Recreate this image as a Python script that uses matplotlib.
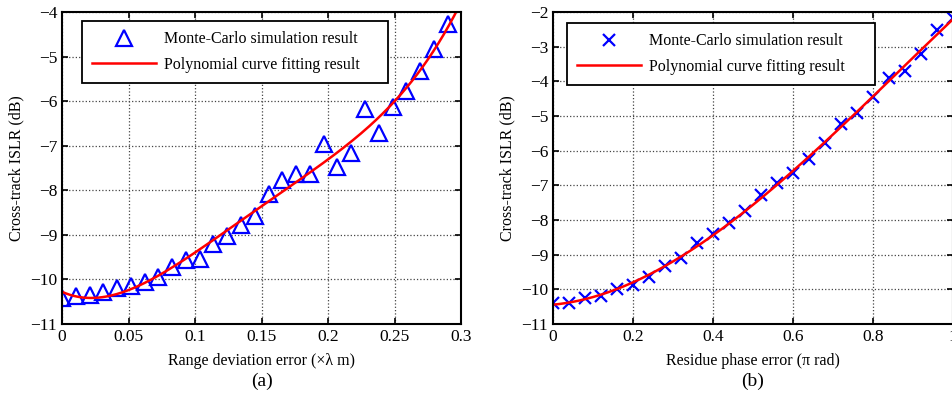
import numpy as np
import matplotlib
matplotlib.use("Agg")
import matplotlib.pyplot as plt

plt.rcParams['font.family'] = ['Liberation Serif', 'DejaVu Serif']

# (a) range deviation error
range_err = [0.0, 0.0104, 0.0207, 0.0311, 0.0414, 0.0518, 0.0621, 0.0725, 0.0829, 0.0932,
             0.1036, 0.1139, 0.1243, 0.1346, 0.145, 0.1554, 0.1657, 0.1761, 0.1864, 0.1968,
             0.2071, 0.2175, 0.2279, 0.2382, 0.2486, 0.2589, 0.2693, 0.2796, 0.29]
islr_a = [-10.42, -10.38, -10.36, -10.29, -10.2, -10.14, -10.06, -9.95, -9.73, -9.56,
          -9.55, -9.2, -9.03, -8.79, -8.58, -8.08, -7.77, -7.63, -7.63, -6.96,
          -7.47, -7.16, -6.18, -6.72, -6.13, -5.77, -5.32, -4.83, -4.26]

# (b) residue phase error
phase_err = [0.0, 0.04, 0.08, 0.12, 0.16, 0.2, 0.24, 0.28, 0.32, 0.36, 0.4, 0.44, 0.48,
             0.52, 0.56, 0.6, 0.64, 0.68, 0.72, 0.76, 0.8, 0.84, 0.88, 0.92, 0.96, 1.0]
islr_b = [-10.4, -10.38, -10.26, -10.19, -9.99, -9.87, -9.65, -9.33, -9.09, -8.67, -8.4,
          -8.1, -7.73, -7.28, -6.94, -6.65, -6.25, -5.77, -5.23, -4.9, -4.44, -3.91,
          -3.69, -3.21, -2.52, -2.18]

fig = plt.figure(figsize=(9.52, 3.99), dpi=100)
ax1 = fig.add_axes([62/952, 1-324/399, 399/952, 312/399])
ax2 = fig.add_axes([553/952, 1-324/399, 400/952, 312/399])


def style(ax):
    ax.grid(True, linestyle=':', color='#444444', linewidth=0.9)
    ax.tick_params(direction='in', top=True, right=True, labelsize=12.5, length=4, width=1.2)
    for s in ax.spines.values():
        s.set_linewidth(1.5)


def add_legend(ax, x0, y0, w):
    leg = ax.legend(loc='upper left', bbox_to_anchor=(x0, y0, w, 0.0), mode='expand',
                    borderaxespad=0, fancybox=False, edgecolor='k', framealpha=1,
                    fontsize=11.5, numpoints=1, handlelength=4.0, handletextpad=0.5,
                    borderpad=0.65, labelspacing=0.6)
    leg.get_frame().set_linewidth(1.3)


# polynomial fits of the simulation points
pa = np.polyfit(range_err, islr_a, 4)
xa = np.linspace(0, 0.3, 300)
pb = np.polyfit(phase_err, islr_b, 3)
xb = np.linspace(0, 1, 300)

ax1.plot(range_err, islr_a, '^', ms=11, mfc='none', mec='#0000ff', mew=1.6,
         label='Monte-Carlo simulation result')
ax1.plot(xa, np.polyval(pa, xa), color='#ff0000', lw=1.8,
         label='Polynomial curve fitting result')
ax1.set_xlim(0, 0.3)
ax1.set_ylim(-11, -4)
ax1.set_xticks([0, 0.05, 0.1, 0.15, 0.2, 0.25, 0.3])
ax1.set_xticklabels(['0', '0.05', '0.1', '0.15', '0.2', '0.25', '0.3'])
ax1.set_yticks(np.arange(-11, -3))
ax1.set_xlabel('Range deviation error (×λ m)', fontsize=11.5, labelpad=6)
ax1.set_ylabel('Cross-track ISLR (dB)', fontsize=11.5)
style(ax1)
add_legend(ax1, 0.05, 0.972, 0.767)
ax1.text(0.5, -0.155, '(a)', transform=ax1.transAxes, ha='center', va='top', fontsize=14)

ax2.plot(phase_err, islr_b, 'x', ms=9, mec='#0000ff', mew=1.6,
         label='Monte-Carlo simulation result')
ax2.plot(xb, np.polyval(pb, xb), color='#ff0000', lw=1.8,
         label='Polynomial curve fitting result')
ax2.set_xlim(0, 1)
ax2.set_ylim(-11, -2)
ax2.set_xticks([0, 0.2, 0.4, 0.6, 0.8, 1])
ax2.set_xticklabels(['0', '0.2', '0.4', '0.6', '0.8', '1'])
ax2.set_yticks(np.arange(-11, -1))
ax2.set_xlabel('Residue phase error (π rad)', fontsize=11.5, labelpad=6)
ax2.set_ylabel('Cross-track ISLR (dB)', fontsize=11.5)
style(ax2)
add_legend(ax2, 0.035, 0.965, 0.77)
ax2.text(0.5, -0.155, '(b)', transform=ax2.transAxes, ha='center', va='top', fontsize=14)

fig.savefig('out.png', dpi=100)
